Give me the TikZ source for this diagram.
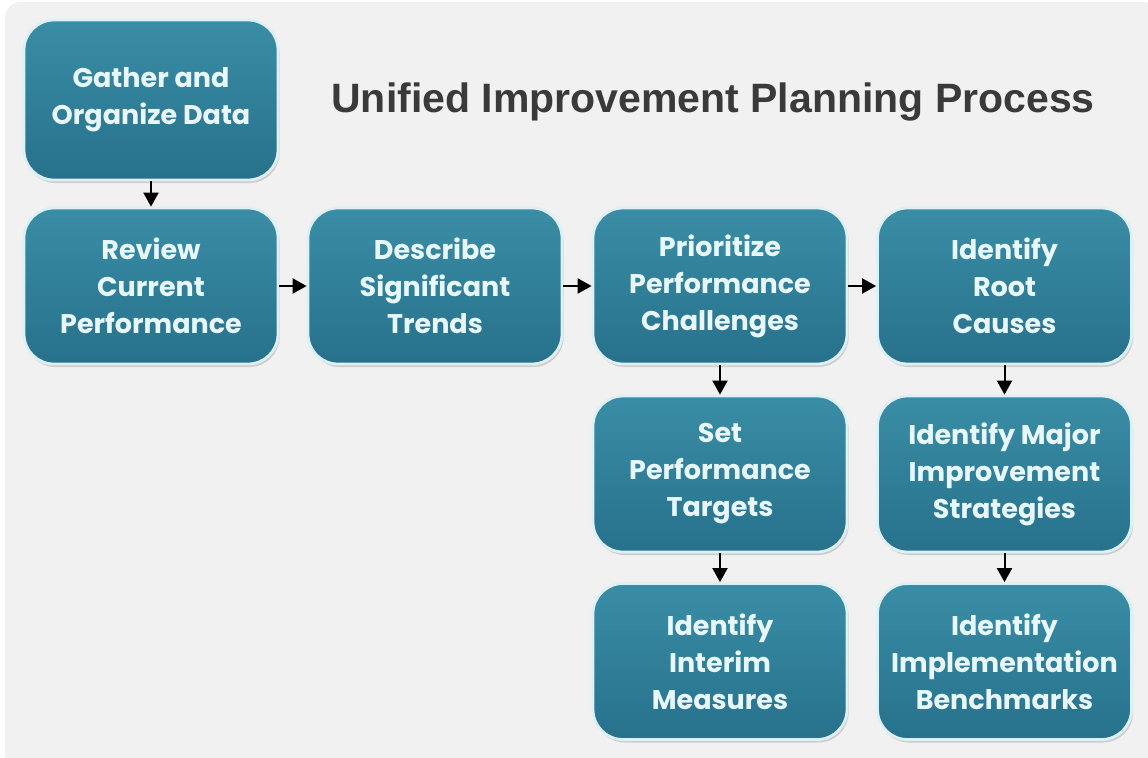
\documentclass[tikz,border=0pt]{standalone}
\usepackage{fontspec}
\setmainfont{Liberation Sans}
\newfontfamily\boxfont{Poppins}
\usetikzlibrary{shadows,arrows.meta}
\definecolor{bgray}{HTML}{F1F1F1}
\definecolor{tealtop}{HTML}{3A8DA6}
\definecolor{tealbot}{HTML}{27718B}
\definecolor{edgec}{HTML}{DDF0F5}
\definecolor{txtc}{HTML}{E8F7FB}
\definecolor{titlec}{HTML}{3A3A3A}
\tikzset{
  stepbox/.style={rectangle, rounded corners=15pt, draw=edgec, line width=1.4pt,
    top color=tealtop, bottom color=tealbot,
    minimum width=127pt, minimum height=78pt, inner sep=2pt,
    align=center, text=txtc, font=\boxfont\bfseries\fontsize{13.5}{18.5}\selectfont,
    drop shadow={opacity=0.3, shadow xshift=0.8pt, shadow yshift=-1.5pt}},
  arr/.style={line width=1pt, -{Triangle[length=7pt,width=7.5pt]}},
}
\begin{document}
\begin{tikzpicture}[x=0.5pt,y=-0.5pt]
\fill[white] (0,0) rectangle (1148,757);
\useasboundingbox (0,0) rectangle (1148,757);
\fill[bgray, rounded corners=8pt] (5,2) rectangle (1160,770);

\node[stepbox, minimum height=80pt] (g) at (151,100) {Gather and\\Organize Data};
\node[stepbox] (r) at (151,286) {Review\\Current\\Performance};
\node[stepbox] (d) at (435,286) {Describe\\Significant\\Trends};
\node[stepbox] (p) at (720,286) {Prioritize\\Performance\\Challenges};
\node[stepbox] (i) at (1004.5,286) {Identify\\Root\\Causes};
\node[stepbox] (s) at (720,474) {Set\\Performance\\Targets};
\node[stepbox] (m) at (1004.5,474) {Identify Major\\Improvement\\Strategies};
\node[stepbox] (n) at (720,661.5) {Identify\\Interim\\Measures};
\node[stepbox] (b) at (1004.5,661.5) {Identify\\Implementation\\Benchmarks};

\node[text=titlec, font=\bfseries\fontsize{20.5}{24}\selectfont] (t) at (713,102) {Unified Improvement Planning Process};

\draw[arr] (g) -- (r);
\draw[arr] (r) -- (d);
\draw[arr] (d) -- (p);
\draw[arr] (p) -- (i);
\draw[arr] (p) -- (s);
\draw[arr] (s) -- (n);
\draw[arr] (i) -- (m);
\draw[arr] (m) -- (b);
\end{tikzpicture}
\end{document}
